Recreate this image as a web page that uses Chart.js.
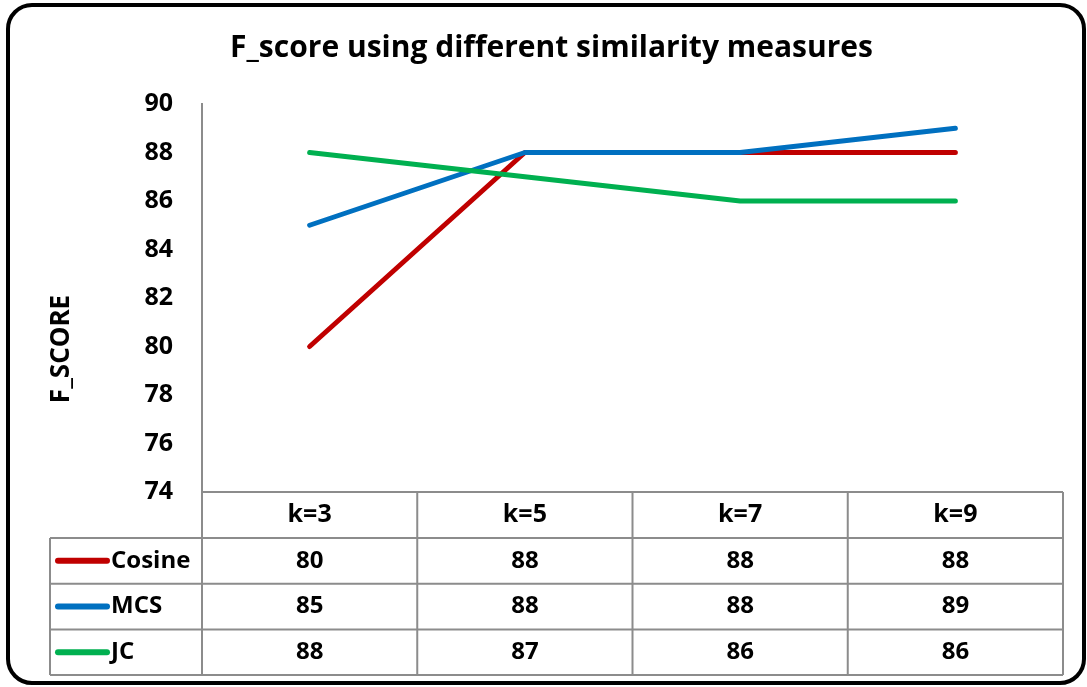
<!DOCTYPE html>
<html>
<head>
<meta charset="utf-8">
<script src="https://cdn.jsdelivr.net/npm/chart.js@4"></script>
<style>
  html, body { margin: 0; padding: 0; background: #fff; }
  #wrap { width: 1087px; height: 687px; }
</style>
</head>
<body>
<div id="wrap"><canvas id="chart" width="1087" height="687"></canvas></div>
<script>
// data
const categories = ['k=3', 'k=5', 'k=7', 'k=9'];
const seriesNames = ['Cosine', 'MCS', 'JC'];
const cosineValues = [80, 88, 88, 88];
const mcsValues = [85, 88, 88, 89];
const jcValues = [88, 87, 86, 86];
const seriesColors = ['#C00000', '#0070C0', '#00B050'];
const yMin = 74, yMax = 90, yStep = 2;
const yTitle = 'F_SCORE';

const FONT = '"Open Sans", sans-serif';
const GRID = '#8c8c8c';

// frame, y title and data table under the plot
const tablePlugin = {
  id: 'dataTable',
  beforeDraw(chart) {
    const c = chart.ctx;
    c.save();
    c.fillStyle = '#fff';
    c.fillRect(0, 0, chart.width, chart.height);
    c.lineWidth = 4;
    c.strokeStyle = '#000';
    c.beginPath();
    c.roundRect(8, 5, 1076, 678, 24);
    c.stroke();
    c.restore();
  },
  afterDraw(chart) {
    const c = chart.ctx;
    const area = chart.chartArea;
    const x = chart.scales.x;
    const half = (area.right - area.left) / categories.length / 2;
    const headH = 46, rowH = 45.7;
    const top = area.bottom;
    const rowsTop = top + headH;
    const bottom = rowsTop + rowH * seriesNames.length;
    const leftEdge = 50;

    c.save();
    // axis title, sits lower than the plot centre in the original
    c.fillStyle = '#000';
    c.font = 'bold 26px ' + FONT;
    c.textAlign = 'center';
    c.textBaseline = 'middle';
    c.translate(62, 349);
    c.rotate(-Math.PI / 2);
    c.fillText(yTitle, 0, 0);
    c.restore();

    c.save();
    c.strokeStyle = GRID;
    c.lineWidth = 2;
    c.beginPath();
    c.moveTo(area.left, top); c.lineTo(area.right, top);
    for (let r = 0; r <= seriesNames.length; r++) {
      const y = rowsTop + r * rowH;
      c.moveTo(leftEdge, y); c.lineTo(area.right, y);
    }
    c.moveTo(leftEdge, rowsTop); c.lineTo(leftEdge, bottom);
    categories.forEach((cat, i) => {
      const cx = x.getPixelForValue(i);
      c.moveTo(cx - half, top); c.lineTo(cx - half, bottom);
    });
    c.moveTo(area.right, top); c.lineTo(area.right, bottom);
    c.stroke();

    c.fillStyle = '#000';
    c.textBaseline = 'middle';
    c.textAlign = 'center';
    c.font = 'bold 25px ' + FONT;
    categories.forEach((cat, i) => {
      c.fillText(cat, x.getPixelForValue(i), top + headH / 2);
    });

    c.font = 'bold 24px ' + FONT;
    chart.data.datasets.forEach((ds, r) => {
      const cy = rowsTop + r * rowH + rowH / 2;
      c.strokeStyle = ds.borderColor;
      c.lineWidth = 6;
      c.lineCap = 'round';
      c.beginPath();
      c.moveTo(58, cy); c.lineTo(107, cy);
      c.stroke();
      c.textAlign = 'left';
      c.fillText(ds.label, 111, cy);
      c.textAlign = 'center';
      ds.data.forEach((v, i) => c.fillText(String(v), x.getPixelForValue(i), cy));
    });
    c.restore();
  }
};

const seriesData = [cosineValues, mcsValues, jcValues];

new Chart(document.getElementById('chart'), {
  type: 'line',
  data: {
    labels: categories,
    datasets: seriesNames.map((name, i) => ({
      label: name,
      data: seriesData[i],
      borderColor: seriesColors[i],
      backgroundColor: seriesColors[i],
      borderWidth: 5,
      borderCapStyle: 'round',
      borderJoinStyle: 'round',
      pointRadius: 0,
      tension: 0,
      order: seriesNames.length - 1 - i
    }))
  },
  options: {
    responsive: false,
    animation: false,
    // left padding shifts the title centre right, as in the original
    layout: { padding: { top: 30, right: 24, bottom: 195, left: 40 } },
    plugins: {
      legend: { display: false },
      tooltip: { enabled: false },
      title: {
        display: true,
        text: 'F_score using different similarity measures',
        color: '#000',
        font: { family: FONT, size: 30, weight: 'bold' },
        padding: { top: 0, bottom: 38 }
      }
    },
    scales: {
      x: {
        type: 'category',
        display: false,
        offset: true
      },
      y: {
        min: yMin,
        max: yMax,
        afterFit(scale) { scale.width = 162; },
        ticks: {
          stepSize: yStep,
          color: '#000',
          padding: 29,
          font: { family: FONT, size: 25, weight: 'bold' }
        },
        grid: { display: false, drawTicks: false },
        border: { display: true, color: GRID, width: 2 }
      }
    }
  },
  plugins: [tablePlugin]
});
</script>
</body>
</html>
